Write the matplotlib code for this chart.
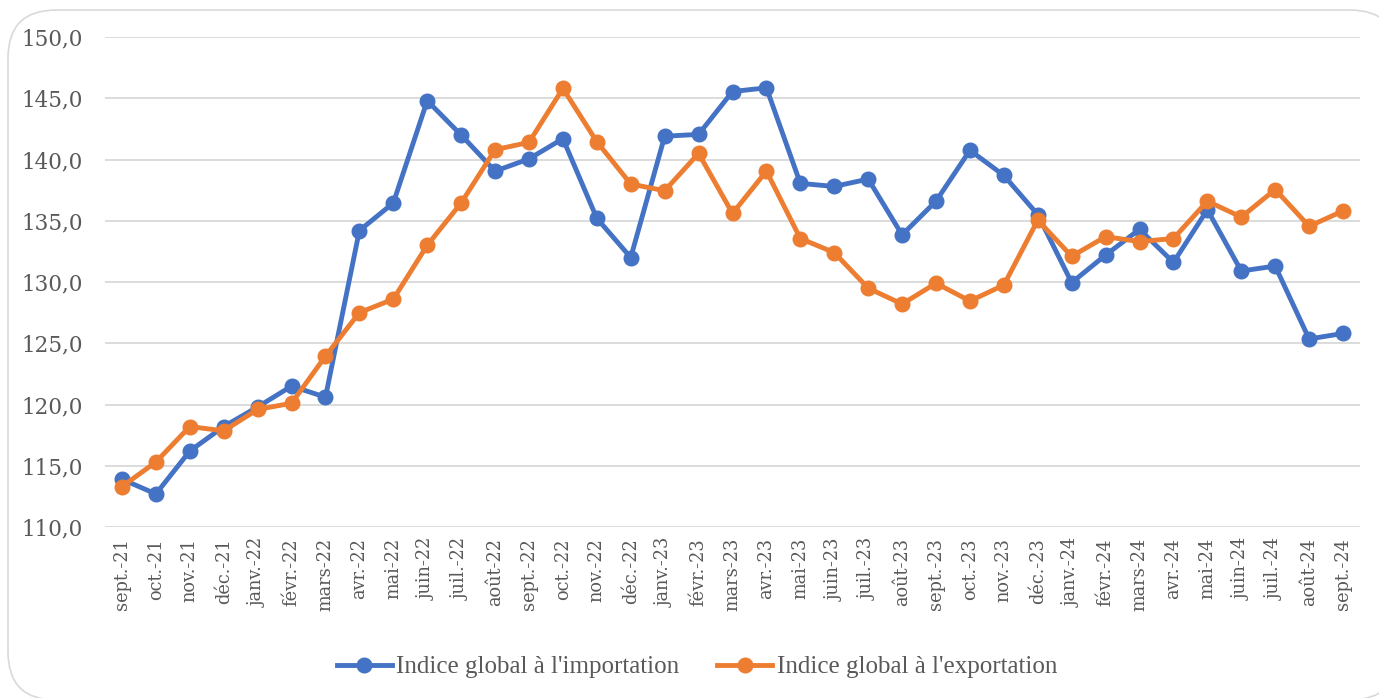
import matplotlib as mpl
mpl.use('Agg')
import matplotlib.pyplot as plt
from matplotlib.patches import FancyBboxPatch
from matplotlib.ticker import FuncFormatter

months = ['sept.-21', 'oct.-21', 'nov.-21', 'déc.-21', 'janv.-22', 'févr.-22', 'mars-22',
          'avr.-22', 'mai-22', 'juin-22', 'juil.-22', 'août-22', 'sept.-22', 'oct.-22',
          'nov.-22', 'déc.-22', 'janv.-23', 'févr.-23', 'mars-23', 'avr.-23', 'mai-23',
          'juin-23', 'juil.-23', 'août-23', 'sept.-23', 'oct.-23', 'nov.-23', 'déc.-23',
          'janv.-24', 'févr.-24', 'mars-24', 'avr.-24', 'mai-24', 'juin-24', 'juil.-24',
          'août-24', 'sept.-24']

importation = [113.9, 112.7, 116.2, 118.2, 119.8, 121.5, 120.6, 134.2, 136.45, 144.8,
               142.0, 139.05, 140.05, 141.7, 135.2, 132.0, 141.9, 142.05, 145.55, 145.85,
               138.05, 137.8, 138.4, 133.85, 136.6, 140.75, 138.7, 135.5, 129.95, 132.2,
               134.3, 131.6, 135.9, 130.9, 131.3, 125.35, 125.8]

exportation = [113.3, 115.3, 118.2, 117.85, 119.6, 120.1, 123.95, 127.5, 128.6, 133.0,
               136.45, 140.8, 141.4, 145.8, 141.45, 138.0, 137.45, 140.5, 135.6, 139.05,
               133.55, 132.4, 129.5, 128.2, 129.9, 128.45, 129.75, 135.05, 132.1, 133.7,
               133.3, 133.55, 136.6, 135.3, 137.55, 134.55, 135.8]

blue = '#4472C4'
orange = '#ED7D31'
grey_txt = '#595959'

fig = plt.figure(figsize=(13.79, 6.98), dpi=100)

# rounded chart frame, cropped on the right and bottom
frame = FancyBboxPatch((8/1379, 1 - 700/698), 1390/1379, 690/698,
                       boxstyle='round,pad=0,rounding_size=0.035',
                       transform=fig.transFigure, fc='white', ec='#D9D9D9', lw=1.2,
                       mutation_aspect=1379/698, zorder=-5)
fig.patches.append(frame)

ax = fig.add_axes([105/1379, 1 - 527/698, 1255/1379, 490/698])
ax.set_facecolor('none')
x = range(len(months))
ax.plot(x, importation, color=blue, lw=3.5, marker='o', ms=10.5,
        label="Indice global à l'importation", zorder=3)
ax.plot(x, exportation, color=orange, lw=3.5, marker='o', ms=10.5,
        label="Indice global à l'exportation", zorder=4)

ax.set_xlim(-0.5, len(months) - 0.5)
ax.set_ylim(110, 150)
ax.set_yticks(range(110, 151, 5))
ax.yaxis.set_major_formatter(FuncFormatter(lambda v, p: f'{v:.1f}'.replace('.', ',')))
ax.set_xticks(list(x))
ax.set_xticklabels(months, rotation=90, fontfamily='DejaVu Serif', fontsize=12.8, color=grey_txt)
for t in ax.get_yticklabels():
    t.set_fontfamily('DejaVu Serif')
    t.set_fontsize(15.5)
    t.set_color(grey_txt)
ax.tick_params(axis='both', length=0)
ax.tick_params(axis='y', pad=16)
ax.tick_params(axis='x', pad=8)
ax.grid(axis='y', color='#D9D9D9', lw=1.3)
ax.set_axisbelow(True)
for s in ax.spines.values():
    s.set_visible(False)

leg = fig.legend(loc='center', bbox_to_anchor=(697/1379, 1 - 667/698), ncol=2,
                 frameon=False, prop={'family': 'Liberation Serif', 'size': 18},
                 handlelength=2.2, columnspacing=1.5, handletextpad=0.2)
for t in leg.get_texts():
    t.set_color(grey_txt)

plt.savefig('out.png', dpi=100)
